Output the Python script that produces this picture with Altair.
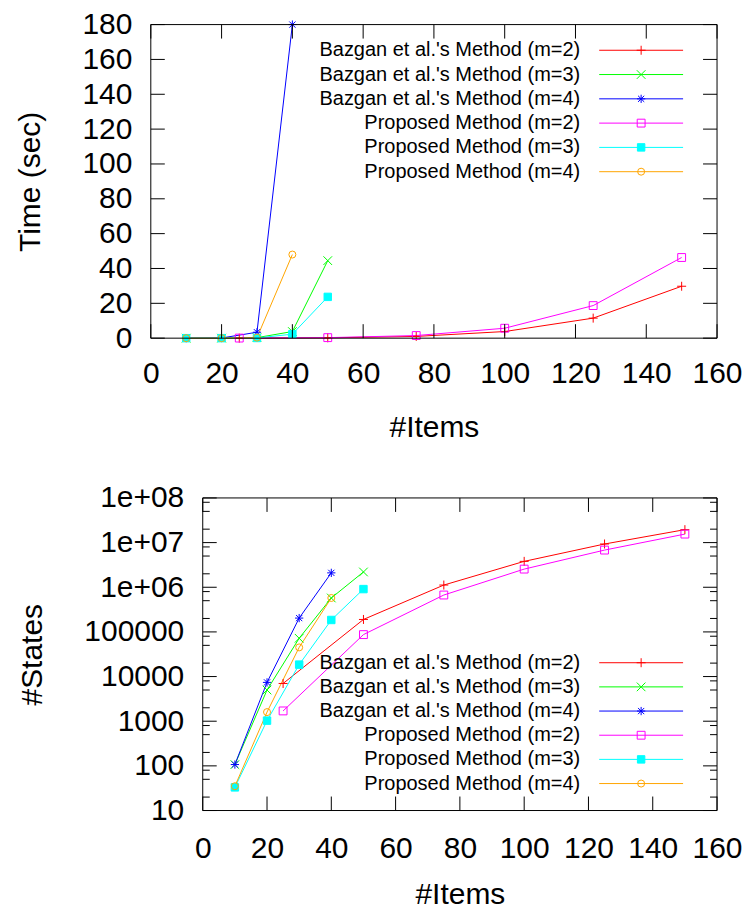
import altair as alt
import pandas as pd

# ---------------- data ----------------
series = [
    "Bazgan et al.'s Method (m=2)",
    "Bazgan et al.'s Method (m=3)",
    "Bazgan et al.'s Method (m=4)",
    "Proposed Method (m=2)",
    "Proposed Method (m=3)",
    "Proposed Method (m=4)",
]
colors = ["#ff0000", "#00ff00", "#0000ff", "#ff00ff", "#00ffff", "#ffa500"]
fills = ["transparent", "transparent", "transparent", "transparent", "#00ffff", "transparent"]

items_b2 = [25, 50, 75, 100, 125, 150]
items_b3 = [10, 20, 30, 40, 50]
items_b4 = [10, 20, 30, 40]
items_p2 = [25, 50, 75, 100, 125, 150]
items_p3 = [10, 20, 30, 40, 50]
items_p4 = [10, 20, 30, 40]

time_b2 = [0.0, 0.2, 1.0, 3.8, 11.5, 29.8]
time_b3 = [0.0, 0.0, 0.3, 3.8, 44.5]
time_b4 = [0.0, 0.1, 3.4, 180.0]
time_p2 = [0.05, 0.3, 1.5, 5.7, 18.7, 46.3]
time_p3 = [0.0, 0.0, 0.1, 2.3, 23.7]
time_p4 = [0.0, 0.0, 0.3, 48.0]

states_b2 = [7000, 190000, 1120000, 3800000, 9300000, 19500000]
states_b3 = [107, 5000, 72000, 575000, 2200000]
states_b4 = [107, 7400, 204000, 2100000]
states_p2 = [1700, 87000, 670000, 2550000, 6800000, 15500000]
states_p3 = [33, 1030, 18500, 185000, 910000]
states_p4 = [35, 1600, 45000, 575000]

x_ticks = [0, 20, 40, 60, 80, 100, 120, 140, 160]
time_ticks = [0, 20, 40, 60, 80, 100, 120, 140, 160, 180]
state_ticks = [10, 100, 1000, 10000, 100000, 1000000, 10000000, 100000000]
state_tick_labels = ["10", "100", "1000", "10000", "100000", "1e+06", "1e+07", "1e+08"]
state_minor = [20, 50, 80, 200, 500, 800, 2000, 5000, 8000, 20000, 50000, 80000,
               200000, 500000, 800000, 2000000, 5000000, 8000000,
               20000000, 50000000, 80000000]

# ---------------- styling helpers ----------------
FONT = "Liberation Sans"
PLUS = "M-1,0L1,0M0,-1L0,1"
CROSS = "M-1,-1L1,1M-1,1L1,-1"
STAR = "M-1,0L1,0M0,-1L0,1M-0.75,-0.75L0.75,0.75M-0.75,0.75L0.75,-0.75"
shapes = [PLUS, CROSS, STAR, "square", "square", "circle"]
sizes = [81, 49, 64, 49, 49, 64]

items_all = [items_b2, items_b3, items_b4, items_p2, items_p3, items_p4]


def build(values_lists):
    rows = []
    for s, xs, ys in zip(series, items_all, values_lists):
        for x, y in zip(xs, ys):
            rows.append({"series": s, "items": x, "value": y})
    return pd.DataFrame(rows)


color_enc = alt.Color("series:N", scale=alt.Scale(domain=series, range=colors), legend=None)
stroke_enc = alt.Stroke("series:N", scale=alt.Scale(domain=series, range=colors), legend=None)
fill_enc = alt.Fill("series:N", scale=alt.Scale(domain=series, range=fills), legend=None)
shape_enc = alt.Shape("series:N", scale=alt.Scale(domain=series, range=shapes), legend=None)
size_enc = alt.Size("series:N", scale=alt.Scale(domain=series, range=sizes), legend=None)

W = 567  # common plot-group width (both panels share the same origin)


def panel(df, XL, H, yscale, yaxis, ymajor, yminor, xlabpad, xtitlepad,
          leg_rows, leg_text_x, leg_line, leg_mark_x):
    # XL: pixel where the framed plot area starts inside the group
    xscale = alt.Scale(domain=[0, 160], range=[XL, W], nice=False, zero=False)
    xaxis = alt.Axis(values=x_ticks, title="#Items", labelPadding=xlabpad,
                     titlePadding=xtitlepad, titleX=(XL + W) / 2)
    xenc = alt.X("items:Q", scale=xscale, axis=xaxis)
    yenc = alt.Y("value:Q", scale=yscale, axis=yaxis)
    base = alt.Chart(df)
    lines = base.mark_line(strokeWidth=1).encode(
        x=xenc, y=yenc, color=color_enc, detail="series:N", order="items:Q")
    pts = base.mark_point(filled=False, strokeWidth=1, opacity=1).encode(
        x=xenc, y=yenc, shape=shape_enc, stroke=stroke_enc, fill=fill_enc, size=size_enc)

    # frame
    frame = alt.Chart(pd.DataFrame({"items": [0], "items2": [160]})).mark_rect(
        fill="transparent", stroke="black", strokeWidth=1
    ).encode(x=xenc, x2="items2:Q", y=alt.value(0), y2=alt.value(H))

    xt = alt.Chart(pd.DataFrame({"items": x_ticks}))
    xb = xt.mark_rule(color="black").encode(x=xenc, y=alt.value(H), y2=alt.value(H - 14))
    xtop = xt.mark_rule(color="black").encode(x=xenc, y=alt.value(0), y2=alt.value(14))

    yt = alt.Chart(pd.DataFrame({"value": ymajor}))
    yl = yt.mark_rule(color="black").encode(y=yenc, x=alt.value(XL), x2=alt.value(XL + 14))
    yr = yt.mark_rule(color="black").encode(y=yenc, x=alt.value(W), x2=alt.value(W - 14))
    layers = [lines, pts, xb, xtop, yl, yr]
    if yminor:
        ym = alt.Chart(pd.DataFrame({"value": yminor}))
        layers.append(ym.mark_rule(color="black").encode(y=yenc, x=alt.value(XL), x2=alt.value(XL + 7)))
        layers.append(ym.mark_rule(color="black").encode(y=yenc, x=alt.value(W), x2=alt.value(W - 7)))
    layers.append(frame)
    main = alt.layer(*layers)

    leg = alt.Chart(pd.DataFrame({"series": series, "row": list(range(len(series)))}))
    ly = alt.Y("row:Q", scale=alt.Scale(domain=[0, len(series) - 1], range=leg_rows, nice=False, zero=False), axis=None)
    ltext = leg.mark_text(align="right", baseline="middle", fontSize=20, font=FONT, color="black").encode(
        x=alt.value(leg_text_x), y=ly, text="series:N")
    lrule = leg.mark_rule(strokeWidth=1).encode(
        x=alt.value(leg_line[0]), x2=alt.value(leg_line[1]), y=ly, color=color_enc)
    lpt = leg.mark_point(filled=False, strokeWidth=1, opacity=1).encode(
        x=alt.value(leg_mark_x), y=ly, shape=shape_enc, stroke=stroke_enc, fill=fill_enc, size=size_enc)
    legend = alt.layer(lrule, lpt, ltext)

    return alt.layer(main, legend).resolve_scale(y="independent").properties(
        width=W, height=H, view=alt.ViewBackground(stroke="transparent"))


top = panel(
    build([time_b2, time_b3, time_b4, time_p2, time_p3, time_p4]),
    0, 314,
    alt.Scale(domain=[0, 180], nice=False, zero=False),
    alt.Axis(values=time_ticks, title="Time (sec)", labelPadding=19, titlePadding=36),
    time_ticks, None, 20, 24,
    [25.7, 147.3], 430, (449, 533), 491,
)

label_expr = "[" + ",".join("'%s'" % s for s in state_tick_labels) + "][round(log(datum.value)/LN10)-1]"
bottom = panel(
    build([states_b2, states_b3, states_b4, states_p2, states_p3, states_p4]),
    52, 313,
    alt.Scale(type="log", domain=[10, 100000000], nice=False),
    alt.Axis(values=state_ticks, title="#States", labelPadding=19, titlePadding=36,
             labelExpr=label_expr, offset=-52),
    state_ticks, state_minor, 23, 16,
    [165, 286], 430, (449, 533), 491,
)

chart = alt.vconcat(top, bottom, spacing=39).properties(
    padding={"left": 7, "top": 0, "right": 0, "bottom": -3}
).configure_view(
    stroke="transparent"
).configure_axis(
    domain=False, ticks=False, grid=False,
    labelFont=FONT, titleFont=FONT, labelFontSize=30, titleFontSize=30,
    titleFontWeight="normal", labelColor="black", titleColor="black", labelFlush=False,
)

chart.save("out.html", embed_options={"renderer": "svg", "actions": False})
